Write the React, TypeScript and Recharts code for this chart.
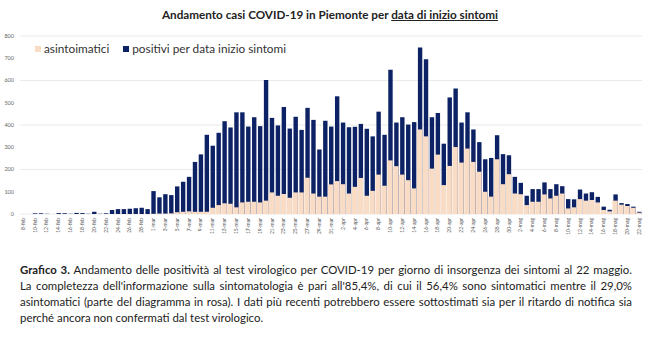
import React from 'react';
import { BarChart, Bar, XAxis, YAxis, CartesianGrid } from 'recharts';

// giorni dall'8 febbraio al 22 maggio
const categories = [
  '8-feb', '9-feb', '10-feb', '11-feb', '12-feb', '13-feb', '14-feb', '15-feb', '16-feb', '17-feb', '18-feb',
  '19-feb', '20-feb', '21-feb', '22-feb', '23-feb', '24-feb', '25-feb', '26-feb', '27-feb', '28-feb', '29-feb',
  '1-mar', '2-mar', '3-mar', '4-mar', '5-mar', '6-mar', '7-mar', '8-mar', '9-mar', '10-mar', '11-mar', '12-mar',
  '13-mar', '14-mar', '15-mar', '16-mar', '17-mar', '18-mar', '19-mar', '20-mar', '21-mar', '22-mar', '23-mar',
  '24-mar', '25-mar', '26-mar', '27-mar', '28-mar', '29-mar', '30-mar', '31-mar',
  '1-apr', '2-apr', '3-apr', '4-apr', '5-apr', '6-apr', '7-apr', '8-apr', '9-apr', '10-apr', '11-apr', '12-apr',
  '13-apr', '14-apr', '15-apr', '16-apr', '17-apr', '18-apr', '19-apr', '20-apr', '21-apr', '22-apr', '23-apr',
  '24-apr', '25-apr', '26-apr', '27-apr', '28-apr', '29-apr', '30-apr',
  '1-mag', '2-mag', '3-mag', '4-mag', '5-mag', '6-mag', '7-mag', '8-mag', '9-mag', '10-mag', '11-mag', '12-mag',
  '13-mag', '14-mag', '15-mag', '16-mag', '17-mag', '18-mag', '19-mag', '20-mag', '21-mag', '22-mag',
];

// totale positivi per data inizio sintomi
const positivi = [
  0, 0, 3, 3, 1, 0, 4, 3, 1, 5, 4, 1, 10, 1, 3, 18, 22, 22, 24, 26, 28, 22,
  103, 75, 89, 85, 124, 145, 167, 234, 268, 356, 307, 365, 417, 389, 457, 457, 393, 435, 395,
  602, 432, 398, 481, 384, 437, 378, 477, 423, 290, 419, 393,
  529, 411, 390, 392, 405, 383, 349, 460, 356, 648, 411, 435, 402, 413, 748, 696, 435, 454,
  316, 524, 564, 411, 457, 380, 323, 246, 252, 354, 269, 264, 167,
  140, 82, 112, 112, 142, 112, 134, 125, 67, 66, 110, 92, 98, 77, 33, 19, 88, 49, 45, 33, 10,
];

// di cui asintomatici
const asintomatici = [
  0, 0, 0, 0, 0, 0, 0, 0, 0, 0, 0, 0, 0, 0, 0, 0, 0, 0, 0, 0, 0, 0,
  1, 2, 2, 3, 8, 10, 12, 10, 10, 10, 28, 40, 48, 46, 30, 52, 55, 55, 52,
  60, 97, 82, 90, 73, 97, 97, 163, 92, 78, 78, 133,
  148, 134, 92, 122, 162, 82, 104, 177, 127, 241, 215, 177, 152, 115, 380, 349, 204, 267,
  130, 216, 301, 231, 294, 234, 190, 100, 78, 246, 134, 179, 92,
  89, 40, 55, 55, 88, 70, 82, 92, 25, 30, 67, 60, 63, 52, 18, 12, 60, 42, 36, 28, 6,
];

const yTicks = [0, 100, 200, 300, 400, 500, 600, 700, 800];

const captionLines = [
  'Andamento delle positività al test virologico per COVID-19 per giorno di insorgenza dei sintomi al 22 maggio.',
  "La completezza dell'informazione sulla sintomatologia è pari all'85,4%, di cui il 56,4% sono sintomatici mentre il 29,0%",
  'asintomatici (parte del diagramma in rosa). I dati più recenti potrebbero essere sottostimati sia per il ritardo di notifica sia',
  'perché ancora non confermati dal test virologico.',
];

const NAVY = '#0c2265';
const PINK = '#f9dcc6';
const FONT = "Lato, 'Open Sans', sans-serif";

const DateTick = ({ x, y, payload }: any) => (
  <g transform={`translate(${x},${y})`}>
    <text transform="rotate(-90)" x={0} y={0} dy={1.8} textAnchor="end" fontSize={5} fill="#555" fontFamily={FONT}>
      {payload.value}
    </text>
  </g>
);

const App: React.FC = () => {
  const data = categories.map((day, i) => ({
    day,
    positivi: positivi[i],
    asintomatici: asintomatici[i],
  }));

  return (
    <div style={{ position: 'absolute', left: 0, top: 0, width: 650, height: 349, background: '#fff', fontFamily: FONT }}>
      <div style={{ position: 'absolute', top: 7, left: 0, width: 660, textAlign: 'center', fontSize: 11.7, fontWeight: 700, color: '#222' }}>
        Andamento casi COVID-19 in Piemonte per <span style={{ textDecoration: 'underline' }}>data di inizio sintomi</span>
      </div>

      <BarChart width={650} height={250} data={data} margin={{ top: 36, right: 8, left: 2, bottom: 2 }}>
        <CartesianGrid vertical={false} stroke="#e4e4e4" strokeWidth={0.8} />
        <XAxis
          xAxisId="tot"
          dataKey="day"
          interval={1}
          height={34}
          tickSize={0}
          tickMargin={4}
          axisLine={false}
          tickLine={false}
          tick={<DateTick />}
        />
        <XAxis xAxisId="asi" dataKey="day" hide height={0} />
        <YAxis
          domain={[0, 800]}
          ticks={yTicks}
          width={18}
          tickSize={0}
          tickMargin={6}
          axisLine={false}
          tickLine={false}
          tick={{ fontSize: 5.5, fill: '#666', fontFamily: FONT }}
        />
        <Bar xAxisId="tot" dataKey="positivi" name="positivi per data inizio sintomi" fill={NAVY} barSize={4.4} isAnimationActive={false} />
        <Bar xAxisId="asi" dataKey="asintomatici" name="asintoimatici" fill={PINK} barSize={5.4} isAnimationActive={false} />
      </BarChart>

      <div style={{ position: 'absolute', top: 41, left: 35, display: 'flex', alignItems: 'center', fontSize: 11.8, color: '#333' }}>
        <span style={{ width: 6, height: 6, background: PINK, marginRight: 3 }} />
        <span style={{ marginRight: 14 }}>asintoimatici</span>
        <span style={{ width: 6, height: 6, background: NAVY, marginRight: 3 }} />
        <span>positivi per data inizio sintomi</span>
      </div>

      <div style={{ position: 'absolute', top: 262, left: 20, width: 612, fontSize: 11.4, lineHeight: '16px', color: '#222' }}>
        {captionLines.map((line, i) => (
          <div
            key={i}
            style={{
              whiteSpace: 'nowrap',
              textAlign: i < captionLines.length - 1 ? 'justify' : 'left',
              textAlignLast: i < captionLines.length - 1 ? 'justify' : 'left',
            }}
          >
            {i === 0 && <b>Grafico 3. </b>}
            {line}
          </div>
        ))}
      </div>
    </div>
  );
};

export default App;
